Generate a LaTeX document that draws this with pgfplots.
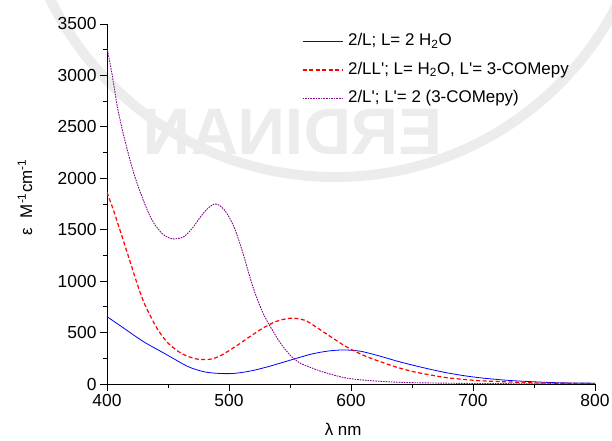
\documentclass[border=0pt]{standalone}
\usepackage{fontspec}
\setmainfont{Liberation Sans}
\usepackage{pgfplots}
\pgfplotsset{compat=1.18}

\definecolor{specblue}{RGB}{0,0,255}
\definecolor{specred}{RGB}{255,0,0}
\definecolor{specpurple}{RGB}{130,10,140}
\definecolor{sealgray}{RGB}{236,236,236}

\pgfplotstableread{
lambda eps
400 655
414 541
430 411
447 298
463 190
470 152
480 118
490 104
503 102
517 125
531 165
544 210
556 252
568 292
581 320
594 331
608 318
624 270
637 225
651 182
665 143
678 110
692 82
706 60
720 44
733 32
760 16
780 10
800 8
}\specA

\pgfplotstableread{
lambda eps
400 1864
405 1700
410 1520
415 1335
420 1150
425 965
430 800
435 675
441 541
449 411
458 320
465 275
474 242
484 240
493 275
506 370
517 460
528 545
539 610
551 640
562 620
570 565
582 470
596 363
610 280
624 217
637 165
651 120
665 88
678 62
692 45
706 32
733 18
760 9
800 5
}\specB

\pgfplotstableread{
lambda eps
400 3270
404 3021
408.5 2696
412.6 2469
416.7 2275
422 2048
427.6 1854
433 1692
438.5 1562
445 1465
450 1425
455 1410
463 1432
470 1515
476 1615
482 1700
488 1750
492 1738
496 1695
500 1625
504 1530
508 1400
512 1250
516 1085
520 930
524 800
528 687
532 595
536 515
542 400
550 282
558 205
566 165
575 125
585 90
596 58
610 38
630 22
650 13
700 5
750 2
800 0
}\specC

\begin{document}
\begin{tikzpicture}
% faint embossed seal behind the plot
\begin{scope}
  \draw[sealgray, line width=10bp] (228bp,524bp) circle[radius=317bp];
  \node[xscale=-1, text=sealgray, font=\fontsize{66}{66}\selectfont\bfseries]
    at (186bp,252bp) {ERDINAN};
\end{scope}
\begin{axis}[
  scale only axis,
  width=488bp, height=360bp,
  xmin=400, xmax=800, ymin=0, ymax=3500,
  axis x line*=bottom, axis y line*=left,
  axis line style={-, black, line width=0.8bp},
  xtick={400,500,...,800},
  ytick={0,500,...,3500},
  minor x tick num=1, minor y tick num=1,
  tick align=outside,
  major tick length=7bp, minor tick length=4bp,
  tick style={black, line width=0.8bp},
  every tick label/.append style={font=\fontsize{17.5}{20}\selectfont},
  /pgf/number format/assume math mode=true,
  /pgf/number format/1000 sep={},
  xlabel={λ nm},
  ylabel={ε\ \ M\textsuperscript{-1}cm\textsuperscript{-1}},
  label style={font=\fontsize{17}{20}\selectfont},
  xlabel style={at={(rel axis cs:0.484,-0.125)}, anchor=center},
  ylabel style={at={(rel axis cs:-0.168,0.519)}, anchor=center, rotate=0},
  legend style={
    at={(rel axis cs:0.399,0.872)}, anchor=west,
    draw=none, fill=none, inner sep=0pt,
    font=\fontsize{17}{20}\selectfont,
    row sep=10.2bp, column sep=5bp,
    nodes={inner sep=0pt, text height=13bp, text depth=5bp},
  },
  legend cell align=left,
  legend image code/.code={\draw[#1] (0bp,0bp) -- (40bp,0bp);},
]
\addplot[specblue, line width=0.8bp, smooth] table {\specA};
\addlegendentry{2/L; L= 2 H\textsubscript{2}O}
\addplot[specred, line width=1.2bp, dash pattern=on 4bp off 2.5bp, smooth] table {\specB};
\addlegendentry{2/LL\textquotesingle; L= H\textsubscript{2}O, L\textquotesingle= 3-COMepy}
\addplot[specpurple, line width=0.9bp, dash pattern=on 1.6bp off 1bp, smooth] table {\specC};
\addlegendentry{2/L\textquotesingle; L\textquotesingle= 2 (3-COMepy)}
\end{axis}
\pgfresetboundingbox
\path[use as bounding box] (-107bp,-57bp) rectangle (505bp,384bp);
\end{tikzpicture}
\end{document}
